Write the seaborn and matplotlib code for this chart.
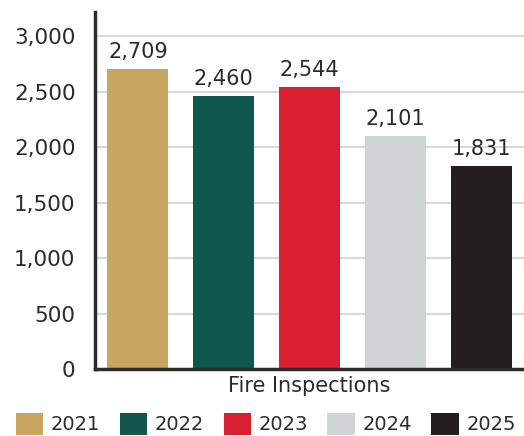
import matplotlib
matplotlib.use("Agg")
import matplotlib.pyplot as plt
import seaborn as sns
import pandas as pd
from matplotlib.patches import Patch

# Annual fire inspection counts
category = "Fire Inspections"
years = ["2021", "2022", "2023", "2024", "2025"]
inspections = [2709, 2460, 2544, 2101, 1831]
colors = ["#C8A662", "#10584E", "#DB1F32", "#D1D4D4", "#231F20"]
yticks = [0, 500, 1000, 1500, 2000, 2500, 3000]

df = pd.DataFrame({
    "category": [category] * len(years),
    "year": years,
    "count": inspections,
})

sns.set_theme(style="white")
plt.rcParams["font.family"] = ["DejaVu Sans"]
text_color = "#2B2B2B"

fig = plt.figure(figsize=(5.24, 4.36), dpi=100)
ax = fig.add_axes([95 / 524, 67 / 436, 429 / 524, 357 / 436])

sns.barplot(data=df, x="category", y="count", hue="year", palette=colors,
            hue_order=years, gap=0.29, saturation=1, legend=False, ax=ax,
            linewidth=0, edgecolor="none", zorder=3)

for cont in ax.containers:
    ax.bar_label(cont, labels=[f"{v:,.0f}" for v in cont.datavalues],
                 padding=5, fontsize=15, color=text_color)

ax.set_ylim(0, 3220)
ax.set_xlim(-0.4, 0.4)
ax.set_yticks(yticks)
ax.set_yticklabels([f"{v:,}" for v in yticks])
ax.yaxis.grid(True, color="#D9D9D9", linewidth=1.5, zorder=0)
ax.set_axisbelow(True)
ax.set_xlabel("")
ax.set_ylabel("")
ax.tick_params(axis="y", length=0, pad=14, labelsize=15.5, labelcolor=text_color)
ax.tick_params(axis="x", length=0, pad=5, labelsize=15, labelcolor=text_color)

for side in ["top", "right"]:
    ax.spines[side].set_visible(False)
for side in ["left", "bottom"]:
    ax.spines[side].set_color("#2B2B2B")
    ax.spines[side].set_linewidth(2.5)
    ax.spines[side].set_zorder(5)

handles = [Patch(facecolor=c, edgecolor="none") for c in colors]
fig.legend(handles, years, loc="center left",
           bbox_to_anchor=(16 / 524, 12 / 436), ncol=5, frameon=False,
           fontsize=14, handlelength=1.4, handleheight=1.4,
           handletextpad=0.4, columnspacing=1.0, borderpad=0,
           borderaxespad=0, labelcolor=text_color)

fig.savefig("out.png", dpi=100)
